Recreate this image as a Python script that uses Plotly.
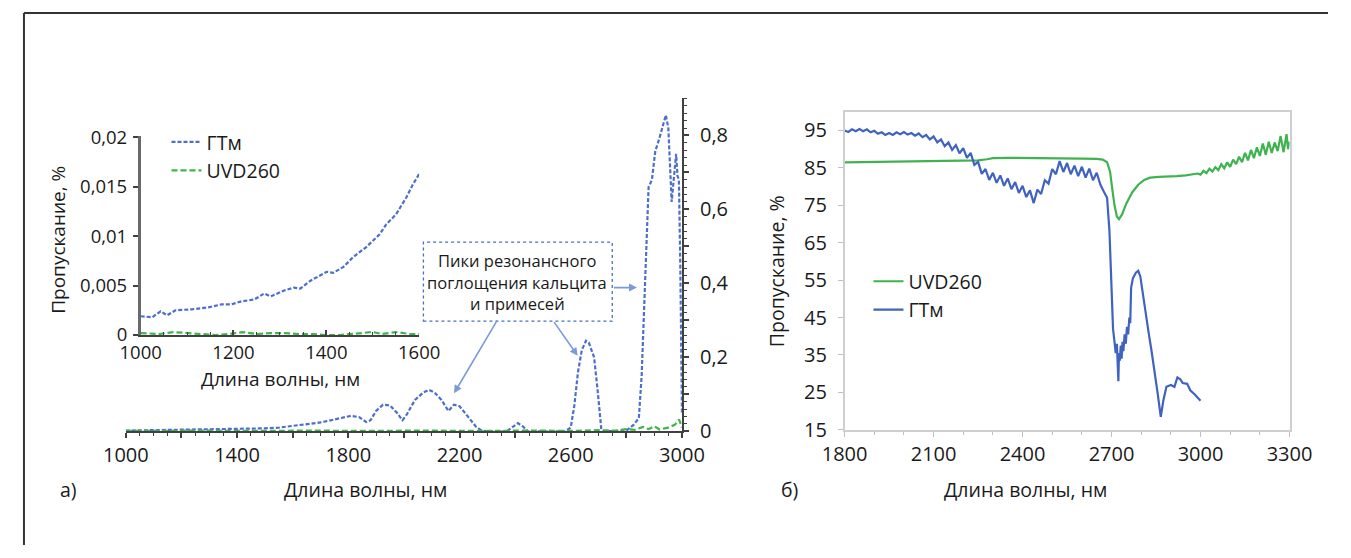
import plotly.graph_objects as go

W, H = 1351, 558
# The photographed page shows the 1351x558 viewport slightly shrunk and centred;
# positions below are given in picture pixels and mapped back to page pixels.
SX, OX, SY, OY = 0.977, 16.0, 0.967, 9.0
def X(r):
    return (r - OX) / SX
def Y(r):
    return (r - OY) / SY
def px(r):
    return X(r) / W
def py(r):
    return 1 - Y(r) / H

FONT = "Open Sans"
TXT = "#1a1a1a"
FT = 20      # tick labels
FTI = 18.5   # inset tick labels
FL = 19.5    # titles / legend
FB = 16.5    # box text

# ---------------- Panel a (main): wavelength, nm / transmission, % ----------------
a_gtm_wl = [1000, 1100, 1200, 1300, 1400, 1500, 1550, 1600, 1650, 1700, 1750, 1780, 1810, 1840,
            1865, 1880, 1900, 1925, 1950, 1975, 1995, 2010, 2040, 2070, 2090, 2110, 2135, 2160,
            2180, 2200, 2230, 2260, 2280, 2300, 2370, 2390, 2410, 2430, 2445, 2580, 2600, 2613,
            2626, 2640, 2655, 2665, 2684, 2696, 2705, 2710, 2720, 2800, 2827, 2845, 2855, 2862,
            2872, 2880, 2892, 2904, 2919, 2933, 2942, 2951, 2957, 2963, 2969, 2975, 2979, 2984,
            2989, 2994, 2997, 3000]
a_gtm_val = [0.002, 0.003, 0.003, 0.004, 0.005, 0.008, 0.010, 0.014, 0.018, 0.024, 0.032, 0.038,
             0.042, 0.038, 0.025, 0.030, 0.055, 0.072, 0.070, 0.050, 0.030, 0.045, 0.085, 0.105,
             0.112, 0.105, 0.085, 0.055, 0.072, 0.068, 0.040, 0.012, 0.002, 0.0, 0.0, 0.010,
             0.022, 0.012, 0.0, 0.0, 0.010, 0.070, 0.160, 0.220, 0.245, 0.240, 0.200, 0.116,
             0.030, 0.005, 0.0, 0.002, 0.018, 0.036, 0.150, 0.290, 0.500, 0.660, 0.680, 0.757,
             0.793, 0.830, 0.855, 0.820, 0.700, 0.620, 0.670, 0.720, 0.750, 0.690, 0.680, 0.450,
             0.200, 0.050]

a_uvd_wl = [1000, 1100, 1200, 1300, 1400, 1500, 1600, 1700, 1800, 1900, 2000, 2100, 2200, 2300,
            2400, 2500, 2600, 2700, 2760, 2800, 2830, 2860, 2880, 2900, 2920, 2950, 2975, 2990, 3000]
a_uvd_val = [0.001, 0.002, 0.001, 0.002, 0.001, 0.002, 0.001, 0.002, 0.001, 0.002, 0.001, 0.002,
             0.001, 0.002, 0.001, 0.002, 0.001, 0.003, 0.002, 0.006, 0.004, 0.012, 0.006, 0.014,
             0.005, 0.010, 0.018, 0.032, 0.010]

# ---------------- Panel a (inset) ----------------
in_gtm_wl = [1000, 1025, 1043, 1057, 1075, 1110, 1146, 1174, 1195, 1217, 1245, 1266, 1280, 1309,
             1330, 1344, 1366, 1387, 1401, 1415, 1437, 1458, 1486, 1515, 1529, 1550, 1572, 1586, 1600]
in_gtm_val = [0.0019, 0.0018, 0.0024, 0.0020, 0.0025, 0.0026, 0.0028, 0.0031, 0.0031, 0.0034,
              0.0036, 0.0042, 0.0039, 0.0045, 0.0048, 0.0047, 0.0055, 0.0060, 0.0064, 0.0063,
              0.0069, 0.0079, 0.0089, 0.0102, 0.0112, 0.0122, 0.0139, 0.0152, 0.0163]

in_uvd_wl = [1000, 1040, 1070, 1100, 1130, 1160, 1190, 1220, 1250, 1280, 1310, 1340, 1370, 1400,
             1430, 1460, 1490, 1500, 1520, 1550, 1580, 1600]
in_uvd_val = [0.0002, 0.0001, 0.0003, 0.0002, 0.0001, 0.0000, 0.0001, 0.0003, 0.0001, 0.0002,
              0.0002, 0.0001, 0.0001, 0.0000, 0.0000, 0.0001, 0.0002, 0.0003, 0.0001, 0.0003,
              0.0001, 0.0001]

# ---------------- Panel б ----------------
b_gtm_wl = [1800, 1812.5, 1825, 1837.5, 1850, 1862.5, 1875, 1887.5, 1900, 1912.5, 1925, 1937.5,
            1950, 1962.5, 1975, 1987.5, 2000, 2012.5, 2025, 2037.5, 2050, 2062.5, 2075, 2087.5,
            2100, 2112.5, 2125, 2137.5, 2150, 2162.5, 2175, 2187.5, 2200, 2212.5, 2225, 2237.5,
            2250, 2262.5, 2275, 2287.5, 2300, 2312.5, 2325, 2337.5, 2350, 2362.5, 2375, 2387.5,
            2400, 2412.5, 2425, 2437.5, 2450, 2462.5, 2475, 2487.5, 2500, 2512.5, 2525, 2537.5,
            2550, 2562.5, 2575, 2587.5, 2600, 2612.5, 2625, 2637.5, 2650, 2662.5,
            2675, 2685, 2693, 2700, 2705, 2710, 2714, 2718, 2721, 2723, 2725, 2728, 2731, 2734,
            2737, 2740, 2744, 2748, 2752, 2756, 2760, 2763,
            2766, 2772, 2782, 2790, 2797, 2804, 2815, 2825, 2835, 2845, 2855, 2866, 2875, 2885,
            2900, 2912, 2922, 2932, 2940, 2955, 2966, 2980, 2993, 3000]
b_gtm_val = [95.0, 94.6, 95.3, 94.8, 95.4, 94.8, 95.3, 94.5, 94.9, 94.1, 94.5, 93.8,
             94.3, 93.8, 94.5, 94.0, 94.6, 93.9, 94.3, 93.6, 94.2, 93.2, 93.8, 92.6,
             93.4, 91.8, 92.6, 90.8, 91.8, 89.8, 91.1, 88.9, 90.3, 87.7, 89.0, 85.8,
             86.6, 83.4, 84.7, 81.8, 83.7, 81.0, 83.0, 80.2, 82.2, 79.3, 81.2, 78.3,
             80.2, 77.2, 79.0, 75.6, 79.2, 78.0, 81.7, 80.8, 84.7, 83.3, 86.8, 83.9,
             86.3, 83.3, 85.6, 82.8, 85.3, 82.4, 84.8, 81.7, 83.7, 80.5,
             78.5, 77.0, 68.0, 55.0, 42.0, 38.5, 35.5, 38.0, 33.0, 28.0, 35.5, 33.5, 37.5, 34.0,
             38.5, 36.0, 40.5, 38.0, 42.5, 40.5, 45.0, 43.5,
             53.0, 55.5, 57.0, 57.5, 56.0, 52.0, 46.0, 41.0, 36.0, 31.0, 25.0, 18.5, 23.0, 26.5,
             27.0, 26.5, 29.0, 28.5, 27.5, 27.3, 25.5, 24.5, 23.5, 22.8]

b_uvd_wl = [1800, 1900, 2000, 2100, 2200, 2250, 2280, 2300, 2350, 2400, 2500, 2600, 2650, 2670,
            2685, 2695, 2703, 2710, 2718, 2725, 2735, 2750, 2770, 2790, 2810, 2830, 2860, 2890,
            2920, 2950, 2970, 2990, 3000, 3010, 3020, 3030, 3040, 3050, 3060, 3070, 3080, 3090,
            3100, 3110, 3120, 3130, 3140, 3150, 3160, 3170, 3180, 3190, 3200, 3210, 3220, 3230,
            3240, 3250, 3260, 3270, 3280, 3290, 3295, 3300]
b_uvd_val = [86.5, 86.6, 86.7, 86.8, 87.0, 87.0, 87.3, 87.6, 87.7, 87.7, 87.6, 87.5, 87.4, 87.2,
             86.5, 84.0, 79.0, 75.0, 72.0, 71.3, 72.5, 75.5, 78.5, 80.5, 81.8, 82.4, 82.6, 82.6,
             82.8, 83.0, 83.2, 83.5, 83.2, 84.2, 83.6, 84.8, 84.0, 85.2, 84.4, 86.0, 84.9, 86.5,
             85.3, 87.2, 86.0, 88.0, 86.5, 89.0, 87.0, 89.8, 87.6, 90.5, 88.2, 91.5, 88.5, 92.0,
             89.0, 91.8, 89.5, 93.5, 89.2, 94.0, 90.0, 92.0]

# tick labels
a_x_ticks = [1000, 1200, 1400, 1600, 1800, 2000, 2200, 2400, 2600, 2800, 3000]
a_x_text = ["1000", "", "1400", "", "1800", "", "2200", "", "2600", "", "3000"]
a_y_ticks = [0, 0.1, 0.2, 0.3, 0.4, 0.5, 0.6, 0.7, 0.8]
a_y_text = ["0", "", "0,2", "", "0,4", "", "0,6", "", "0,8"]
in_x_ticks = [1000, 1200, 1400, 1600]
in_y_ticks = [0, 0.005, 0.01, 0.015, 0.02]
in_y_text = ["0", "0,005", "0,01", "0,015", "0,02"]
b_x_ticks = [1800, 2100, 2400, 2700, 3000, 3300]
b_y_ticks = [15, 25, 35, 45, 55, 65, 75, 85, 95]

BLUE_D = "#4d6fcb"
GREEN_D = "#3db54a"
BLUE_B = "#4062c0"
GREEN_B = "#3fb34f"
AX = "#404040"

fig = go.Figure()
fig.add_trace(go.Scatter(x=a_gtm_wl, y=a_gtm_val, xaxis="x", yaxis="y", mode="lines",
                         line=dict(color=BLUE_D, width=2.2, dash="4px,2px"), showlegend=False))
fig.add_trace(go.Scatter(x=a_uvd_wl, y=a_uvd_val, xaxis="x", yaxis="y", mode="lines",
                         line=dict(color=GREEN_D, width=2.2, dash="6px,3px"), showlegend=False))
fig.add_trace(go.Scatter(x=in_gtm_wl, y=in_gtm_val, xaxis="x2", yaxis="y2", mode="lines", name="ГТм",
                         line=dict(color=BLUE_D, width=2.2, dash="4px,2px"), legend="legend",
                         legendgroup="g1"))
fig.add_trace(go.Scatter(x=in_uvd_wl, y=in_uvd_val, xaxis="x2", yaxis="y2", mode="lines", name="UVD260",
                         line=dict(color=GREEN_D, width=2.2, dash="6px,3px"), legend="legend",
                         legendgroup="g2"))
fig.add_trace(go.Scatter(x=b_uvd_wl, y=b_uvd_val, xaxis="x3", yaxis="y3", mode="lines", name="UVD260",
                         line=dict(color=GREEN_B, width=2.2), legend="legend2", legendgroup="g3"))
fig.add_trace(go.Scatter(x=b_gtm_wl, y=b_gtm_val, xaxis="x3", yaxis="y3", mode="lines", name="ГТм",
                         line=dict(color=BLUE_B, width=2.2), legend="legend2", legendgroup="g4"))

tickfont = dict(family=FONT, size=FT, color=TXT)
tickfont_in = dict(family=FONT, size=FTI, color=TXT)

fig.update_layout(
    width=W, height=H, margin=dict(l=0, r=0, t=0, b=0),
    paper_bgcolor="white", plot_bgcolor="rgba(0,0,0,0)",
    font=dict(family=FONT, size=FL, color=TXT),
    xaxis=dict(domain=[px(120), px(682.5)], range=[1000, 3000], anchor="y",
               showline=True, linecolor=AX, linewidth=2, showgrid=False, zeroline=False,
               tickmode="array", tickvals=a_x_ticks, ticktext=a_x_text, ticks="outside",
               ticklen=5, tickwidth=2, tickcolor=AX, tickfont=tickfont,
               minor=dict(dtick=50, ticks="outside", ticklen=3, tickcolor=AX, tickwidth=1)),
    yaxis=dict(domain=[py(433.5), py(96.5)], range=[0, 0.9], anchor="x", side="right",
               showline=True, linecolor=AX, linewidth=2, showgrid=False, zeroline=False,
               tickmode="array", tickvals=a_y_ticks, ticktext=a_y_text, ticks="outside",
               ticklen=5, tickwidth=2, tickcolor=AX, tickfont=tickfont, ticklabelstandoff=7,
               minor=dict(dtick=0.02, ticks="outside", ticklen=3, tickcolor=AX, tickwidth=1)),
    xaxis2=dict(domain=[px(135), px(416.7)], range=[1000, 1600], anchor="y2",
                showline=True, linecolor=AX, linewidth=2, showgrid=False, zeroline=False,
                tickmode="array", tickvals=in_x_ticks, ticks="inside", ticklen=5, tickwidth=2,
                tickcolor=AX, tickfont=tickfont_in,
                minor=dict(dtick=50, ticks="inside", ticklen=3, tickcolor=AX, tickwidth=1)),
    yaxis2=dict(domain=[py(336), py(135)], range=[0, 0.0201], anchor="x2",
                showline=True, linecolor="#6a6a6a", linewidth=2.5, showgrid=False, zeroline=False,
                tickmode="array", tickvals=in_y_ticks, ticktext=in_y_text, ticks="outside",
                ticklen=5, tickwidth=2, tickcolor=AX, tickfont=tickfont_in, ticklabelstandoff=2),
    xaxis3=dict(domain=[px(847), px(1297)], range=[1800, 3300], anchor="y3",
                showline=True, mirror=True, linecolor="#cfcfcf", linewidth=1.5, showgrid=False,
                zeroline=False, tickmode="array", tickvals=b_x_ticks, ticks="outside", ticklen=5,
                tickcolor="#bfbfbf", tickfont=tickfont,
                minor=dict(dtick=100, ticks="outside", ticklen=3, tickcolor="#bfbfbf")),
    yaxis3=dict(domain=[py(432), py(110)], range=[15, 100], anchor="x3",
                showline=True, mirror=True, linecolor="#cfcfcf", linewidth=1.5, showgrid=False,
                zeroline=False, tickmode="array", tickvals=b_y_ticks, ticks="outside", ticklen=5,
                tickcolor="#bfbfbf", tickfont=tickfont, ticklabelstandoff=7),
    legend=dict(x=(X(167) - 6) / W, y=1 - (Y(140) - 19.5) / H, xanchor="left", yanchor="top",
                bgcolor="rgba(0,0,0,0)", font=dict(family=FONT, size=FL, color=TXT),
                tracegroupgap=0, itemwidth=30),
    legend2=dict(x=(X(877) - 6) / W, y=1 - (Y(281) - 19.5) / H, xanchor="left", yanchor="top",
                 bgcolor="rgba(0,0,0,0)", font=dict(family=FONT, size=FL, color=TXT),
                 tracegroupgap=0, itemwidth=30),
)

ann = []
def text(x, y, s, size=FL, angle=0):
    ann.append(dict(x=px(x), y=py(y), xref="paper", yref="paper", text=s, showarrow=False,
                    font=dict(family=FONT, size=size, color=TXT), textangle=angle,
                    xanchor="center", yanchor="middle"))

text(362, 492, "Длина волны, нм")
text(62, 492, "а)")
text(276, 381, "Длина волны, нм", size=19)
text(52, 240, "Пропускание, %", angle=-90, size=19)
text(1030, 492, "Длина волны, нм")
text(791, 492, "б)")
text(778, 271, "Пропускание, %", angle=-90)
text(516, 261, "Пики резонансного", size=FB)
text(516, 283, "поглощения кальцита", size=FB)
text(516, 304, "и примесей", size=FB)

ARROW = "#7b9bd8"
def arrow(x0, y0, x1, y1):
    ann.append(dict(x=px(x1), y=py(y1), xref="paper", yref="paper",
                    ax=(x0 - x1) / SX, ay=(y0 - y1) / SY,
                    axref="pixel", ayref="pixel", text="", showarrow=True, arrowhead=2,
                    arrowsize=1, arrowwidth=1.6, arrowcolor=ARROW))
arrow(495, 323, 452, 395)
arrow(553, 323, 577, 357)
arrow(613, 288, 637, 288)

fig.update_layout(annotations=ann)

shapes = [
    dict(type="rect", xref="paper", yref="paper", x0=px(421), x1=px(612), y0=py(322), y1=py(242),
         line=dict(color="#4a6fc9", width=1.3, dash="dot")),
    dict(type="line", xref="paper", yref="paper", x0=1 / W, x1=1 / W, y0=1 - 1 / H, y1=0,
         line=dict(color="#333333", width=2)),
    dict(type="line", xref="paper", yref="paper", x0=1 / W, x1=1, y0=1 - 1 / H, y1=1 - 1 / H,
         line=dict(color="#333333", width=2)),
]
fig.update_layout(shapes=shapes)

fig.write_html("out.html", config={"displayModeBar": False},
               post_script="document.body.style.margin='0';document.body.style.overflow='hidden';")
